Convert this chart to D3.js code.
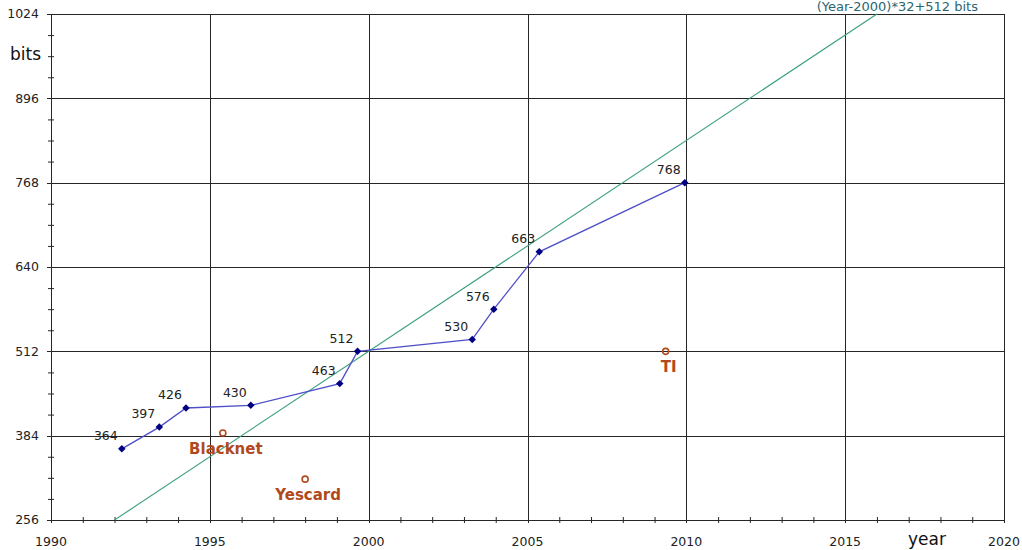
<!DOCTYPE html>
<html>
<head>
<meta charset="utf-8">
<script src="https://cdn.jsdelivr.net/npm/d3@7"></script>
<style>
  body { margin: 0; background: #fff; }
  text { font-family: 'DejaVu Sans', sans-serif; }
</style>
</head>
<body>
<div id="chart"></div>
<script>
// factoring records (year, bits)
const recordYears = [1992.23, 1993.41, 1994.25, 1996.29, 1999.09, 1999.65, 2003.26, 2003.94, 2005.37, 2009.95]
const recordBits = [364, 397, 426, 430, 463, 512, 530, 576, 663, 768]

// other keys
const otherNames = ['Blacknet', 'Yescard', 'TI']
const otherYears = [1995.41, 1998.0, 2009.35]
const otherBits = [388, 318, 512]

// trend (Year-2000)*32+512
const trendYears = [1992, 2016]

const xMajor = [1990, 1995, 2000, 2005, 2010, 2015, 2020]
const yMajor = [256, 384, 512, 640, 768, 896, 1024]

const margin = { top: 14, right: 18, bottom: 30, left: 51 }
const width = 1022 - margin.left - margin.right
const height = 550 - margin.top - margin.bottom

const svg = d3.select('#chart')
  .append('svg')
  .attr('width', 1022)
  .attr('height', 550)

const g = svg.append('g')
  .attr('transform', `translate(${margin.left},${margin.top})`)

const x = d3.scaleLinear().domain([1990, 2020]).range([0, width])
const y = d3.scaleLinear().domain([256, 1024]).range([height, 0])

const gridColor = '#262626'

// minor ticks
const xMinor = d3.range(1991, 2020).filter(v => v % 5 !== 0)
const yMinor = d3.range(288, 1024, 32).filter(v => v % 128 !== 0)

g.append('g')
  .attr('transform', `translate(0,${height + 3})`)
  .call(d3.axisBottom(x).tickValues(xMinor).tickSize(6).tickFormat('').tickSizeOuter(0))
  .call(a => a.select('.domain').remove())
  .call(a => a.selectAll('line').attr('stroke', gridColor).attr('transform', 'translate(0,-6)'))

g.append('g')
  .attr('transform', 'translate(3,0)')
  .call(d3.axisLeft(y).tickValues(yMinor).tickSize(6).tickFormat('').tickSizeOuter(0))
  .call(a => a.select('.domain').remove())
  .call(a => a.selectAll('line').attr('stroke', gridColor))

// major grid
g.append('g')
  .selectAll('line')
  .data(xMajor)
  .enter().append('line')
  .attr('x1', d => Math.round(x(d)) + 0.5)
  .attr('x2', d => Math.round(x(d)) + 0.5)
  .attr('y1', 0)
  .attr('y2', height + 3)
  .attr('stroke', gridColor)

g.append('g')
  .selectAll('line')
  .data(yMajor)
  .enter().append('line')
  .attr('x1', -4)
  .attr('x2', width)
  .attr('y1', d => Math.round(y(d)) + 0.5)
  .attr('y2', d => Math.round(y(d)) + 0.5)
  .attr('stroke', gridColor)

// tick labels
g.append('g')
  .selectAll('text')
  .data(yMajor)
  .enter().append('text')
  .attr('x', -12)
  .attr('y', d => y(d))
  .attr('dy', '0.35em')
  .attr('text-anchor', 'end')
  .attr('font-size', 12.5)
  .attr('fill', '#222')
  .text(d => d)

g.append('g')
  .selectAll('text')
  .data(xMajor)
  .enter().append('text')
  .attr('x', d => x(d))
  .attr('y', height + 26)
  .attr('text-anchor', 'middle')
  .attr('font-size', 12.5)
  .attr('fill', '#222')
  .text(d => d)

svg.append('text')
  .attr('x', 10)
  .attr('y', 60)
  .attr('font-size', 17)
  .attr('fill', '#111')
  .text('bits')

svg.append('text')
  .attr('x', 908)
  .attr('y', 545)
  .attr('font-size', 17)
  .attr('fill', '#111')
  .text('year')

// trend line
g.append('line')
  .attr('x1', x(trendYears[0]))
  .attr('y1', y((trendYears[0] - 2000) * 32 + 512))
  .attr('x2', x(trendYears[1]))
  .attr('y2', y((trendYears[1] - 2000) * 32 + 512))
  .attr('stroke', '#3a9f7c')
  .attr('stroke-width', 1.1)

svg.append('text')
  .attr('x', 978)
  .attr('y', 11)
  .attr('text-anchor', 'end')
  .attr('font-size', 13)
  .attr('fill', '#2b6570')
  .text('(Year-2000)*32+512 bits')

// records
const records = recordYears.map((yr, i) => ({ year: yr, bits: recordBits[i] }))

g.append('path')
  .datum(records)
  .attr('fill', 'none')
  .attr('stroke', '#4f4fc8')
  .attr('stroke-width', 1.3)
  .attr('d', d3.line().x(d => x(d.year)).y(d => y(d.bits)))

g.append('g')
  .selectAll('path')
  .data(records)
  .enter().append('path')
  .attr('transform', d => `translate(${x(d.year)},${y(d.bits)}) rotate(45)`)
  .attr('d', d3.symbol().type(d3.symbolSquare).size(28))
  .attr('fill', '#000080')

g.append('g')
  .selectAll('text')
  .data(records)
  .enter().append('text')
  .attr('x', d => x(d.year) - 16)
  .attr('y', d => y(d.bits) - 13)
  .attr('dy', '0.35em')
  .attr('text-anchor', 'middle')
  .attr('font-size', 12.5)
  .attr('fill', '#222')
  .text(d => d.bits)

// other keys
const others = otherNames.map((n, i) => ({ name: n, year: otherYears[i], bits: otherBits[i] }))

const oc = g.append('g')
  .selectAll('g')
  .data(others)
  .enter().append('g')
  .attr('transform', d => `translate(${x(d.year)},${y(d.bits)})`)

oc.append('circle')
  .attr('r', 3)
  .attr('fill', 'none')
  .attr('stroke', '#b04a1c')
  .attr('stroke-width', 1.6)

oc.append('text')
  .attr('x', 3)
  .attr('y', 21)
  .attr('text-anchor', 'middle')
  .attr('font-size', 15)
  .attr('font-weight', 'bold')
  .attr('fill', '#b04a1c')
  .text(d => d.name)
</script>
</body>
</html>
